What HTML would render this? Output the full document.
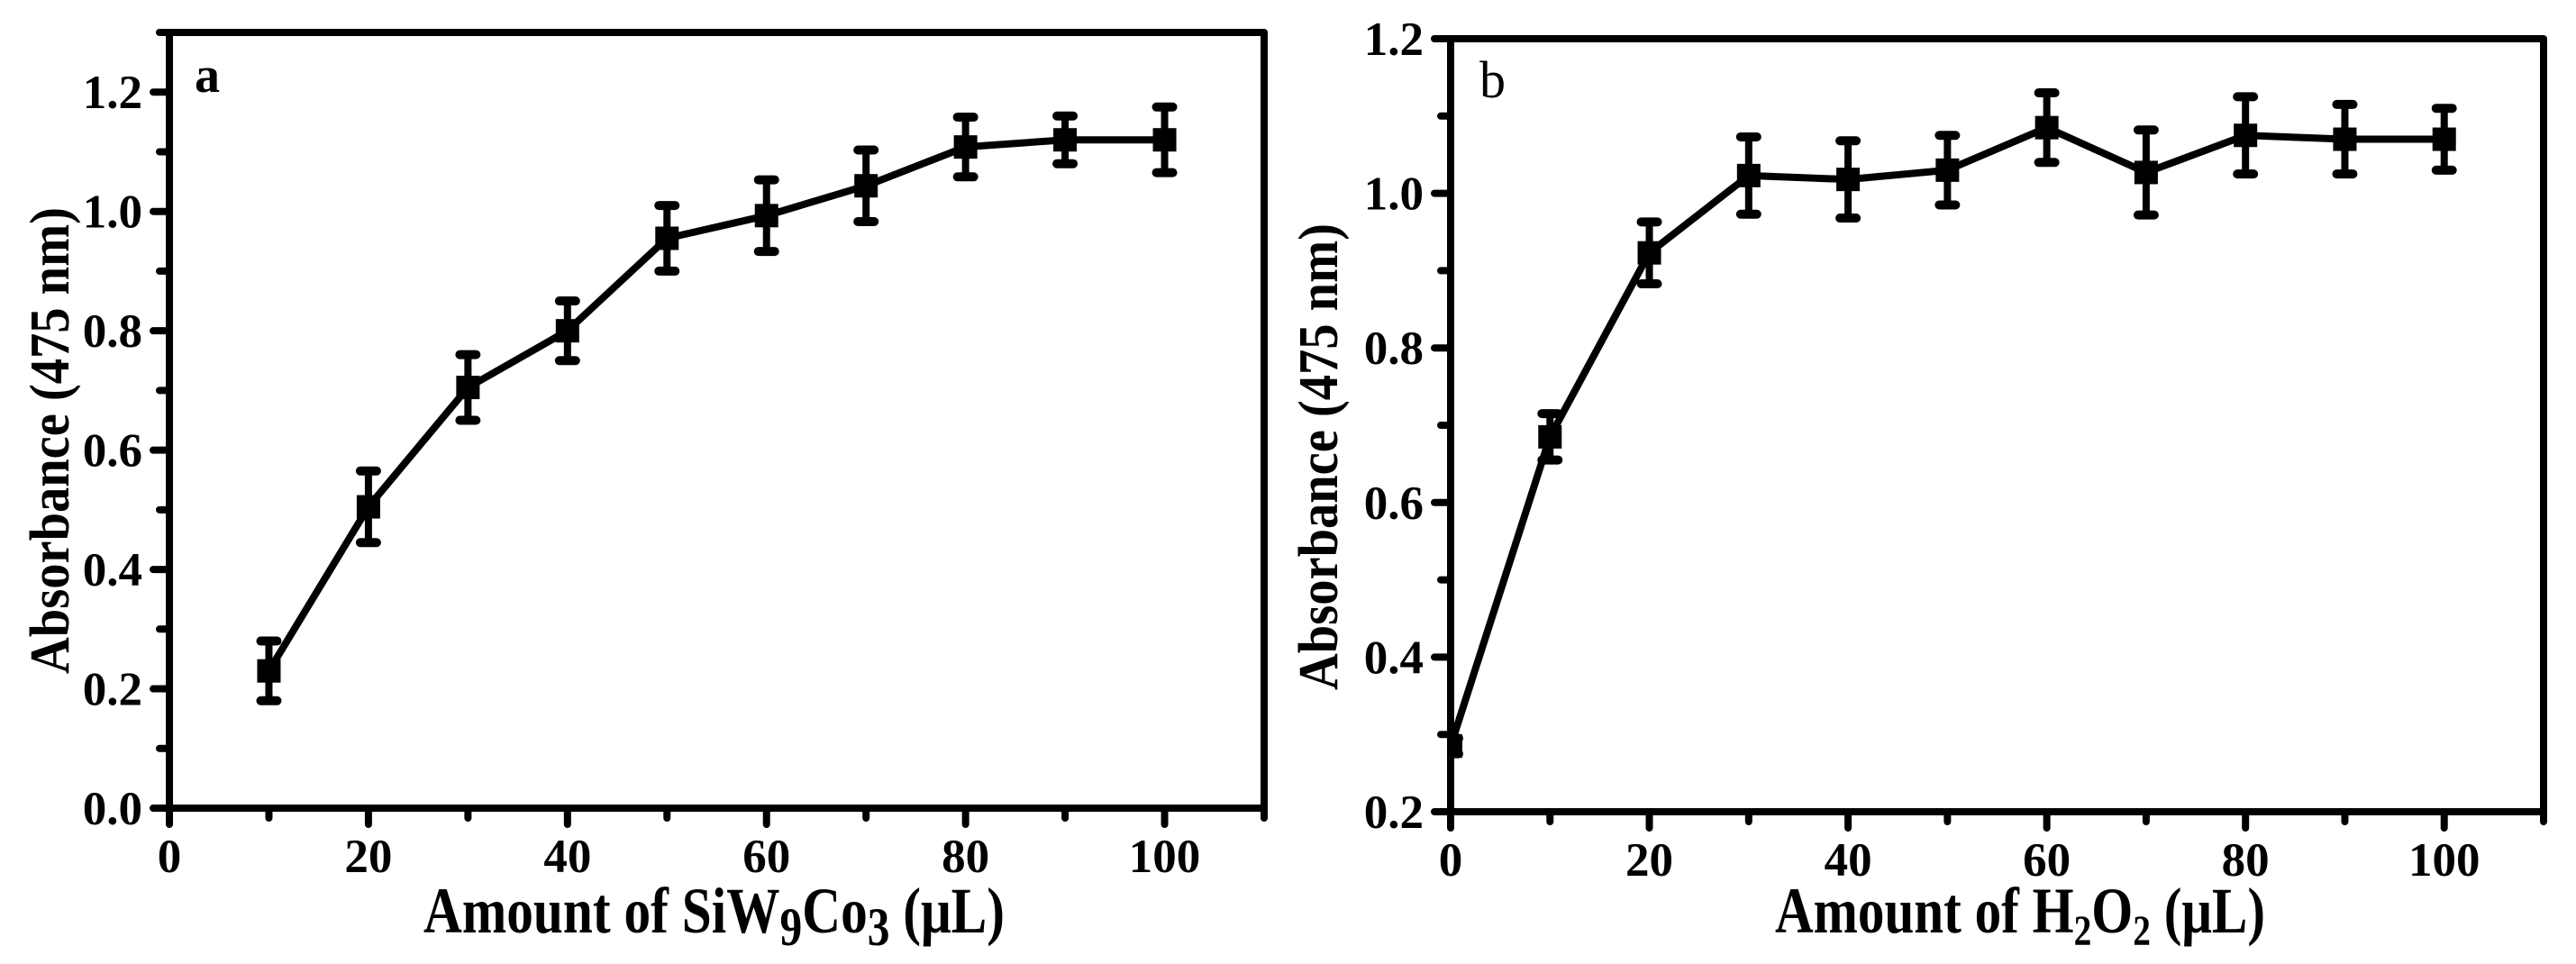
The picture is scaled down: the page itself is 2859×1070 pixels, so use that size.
<!DOCTYPE html>
<html><head><meta charset="utf-8">
<style>
html,body{margin:0;padding:0;background:#fff;}
svg{display:block;}
text{font-family:"Liberation Serif",serif;fill:#000;}
</style></head>
<body>
<svg id="chart" width="2859" height="1070" viewBox="0 0 2859 1070" xmlns="http://www.w3.org/2000/svg">
<defs>
<clipPath id="clipA"><rect x="188" y="36" width="1215" height="861"/></clipPath>
<clipPath id="clipB"><rect x="1610" y="43" width="1213" height="858"/></clipPath>
</defs>
</svg>
<script>
// Panel a data
const aX = [10,20,30,40,50,60,70,80,90,100];
const aY = [0.23,0.505,0.705,0.80,0.955,0.993,1.043,1.108,1.12,1.12];
const aErr = [0.05,0.06,0.055,0.05,0.055,0.06,0.06,0.05,0.04,0.055];
const aXTicks = [0,20,40,60,80,100];
const aYTicks = ["0.0","0.2","0.4","0.6","0.8","1.0","1.2"];
// Panel b data
const bX = [0,10,20,30,40,50,60,70,80,90,100];
const bY = [0.285,0.685,0.923,1.023,1.018,1.03,1.085,1.027,1.075,1.07,1.07];
const bErr = [0.01,0.03,0.04,0.05,0.05,0.045,0.045,0.055,0.05,0.045,0.04];
const bXTicks = [0,20,40,60,80,100];
const bYTicks = ["0.2","0.4","0.6","0.8","1.0","1.2"];

const NS = "http://www.w3.org/2000/svg";
const svg = document.getElementById('chart');
function mk(tag, attrs, parent){
  const e = document.createElementNS(NS, tag);
  for (const k in attrs) e.setAttribute(k, attrs[k]);
  (parent||svg).appendChild(e);
  return e;
}

function panel(cfg){
  const g = mk('g', {});
  
  
  const sx = v => cfg.L + (v - cfg.x0)/(cfg.x1 - cfg.x0)*(cfg.R - cfg.L);
  const sy = v => cfg.B - (v - cfg.y0)/(cfg.y1 - cfg.y0)*(cfg.B - cfg.T);
  // ticks x
  for (let v = cfg.x0; v <= cfg.x1 + 1e-9; v += 10){
    const major = (Math.round(v) % 20 === 0);
    const t = mk('line', {x1:sx(v), x2:sx(v), y1:cfg.B, y2:cfg.B + (major?18:11), stroke:'#000','stroke-width':8,'stroke-linecap':'round'}, g);
    
    
  }
  cfg.xTicks.forEach(v => {
    const t = mk('text', {x:sx(v), y:cfg.B+71, 'font-size':53, 'font-weight':'bold', 'text-anchor':'middle'}, g);
    t.textContent = String(v);
    
    
  });
  // ticks y
  const step = 0.1;
  for (let v = cfg.y0; v <= cfg.y1 + 1e-9; v += step){
    const idx = Math.round((v - cfg.y0)/step);
    const major = idx % 2 === 0;
    const t = mk('line', {x1:cfg.L, x2:cfg.L - (major?18:11), y1:sy(v), y2:sy(v), stroke:'#000','stroke-width':8,'stroke-linecap':'round'}, g);
    
    
  }
  cfg.yTicks.forEach(s => {
    const v = parseFloat(s);
    const t = mk('text', {x:cfg.L-30, y:sy(v)+18, 'font-size':53, 'font-weight':'bold', 'text-anchor':'end'}, g);
    t.textContent = s;
    
    
  });
  // frame
  const fr = mk('rect', {x:cfg.L, y:cfg.T, width:cfg.R-cfg.L, height:cfg.B-cfg.T, fill:'none', stroke:'#000', 'stroke-width':8, 'stroke-linejoin':'round'}, g);
  
  
  // series
  const sg = mk('g', {'clip-path':'url(#'+cfg.clip+')'}, g);
  
  
  const pts = cfg.xs.map((x,i) => sx(x)+','+sy(cfg.ys[i])).join(' ');
  const pl = mk('polyline', {points:pts, fill:'none', stroke:'#000', 'stroke-width':8, 'stroke-linejoin':'round'}, sg);
  
  
  cfg.xs.forEach((x,i) => {
    const cx = sx(x), cy = sy(cfg.ys[i]);
    const hi = sy(cfg.ys[i] + cfg.errs[i]), lo = sy(cfg.ys[i] - cfg.errs[i]);
    const eb = mk('g', {}, sg);
    
    
    mk('line', {x1:cx, x2:cx, y1:hi, y2:lo, stroke:'#000', 'stroke-width':8}, eb);
    mk('line', {x1:cx-9, x2:cx+9, y1:hi, y2:hi, stroke:'#000', 'stroke-width':10, 'stroke-linecap':'round'}, eb);
    mk('line', {x1:cx-9, x2:cx+9, y1:lo, y2:lo, stroke:'#000', 'stroke-width':10, 'stroke-linecap':'round'}, eb);
    const m = mk('rect', {x:cx-13, y:cy-13, width:26, height:26, fill:'#000'}, sg);
    
    
  });
  // panel letter
  const pl2 = mk('text', {x:cfg.letterX, y:cfg.letterY, 'font-size':cfg.letterSize, 'font-weight':cfg.letterWeight}, g);
  pl2.textContent = cfg.letter;
  
  
  // y title
  const yt = mk('text', {transform:'translate('+cfg.ytX+','+cfg.ytY+') rotate(-90)', 'font-size':62, 'font-weight':'bold', 'text-anchor':'middle', textLength:518, lengthAdjust:'spacingAndGlyphs'}, g);
  yt.textContent = 'Absorbance (475 nm)';
  
  
  return {g, sx, sy};
}

const A = panel({name:'panel-a', L:188, R:1403, T:36, B:897, x0:0, x1:110, y0:0, y1:1.3,
  xs:aX, ys:aY, errs:aErr, xTicks:aXTicks, yTicks:aYTicks, clip:'clipA',
  letter:'a', letterX:216, letterY:102, letterSize:56, letterWeight:'bold', ytX:76, ytY:489});
const B = panel({name:'panel-b', L:1610, R:2823, T:43, B:901, x0:0, x1:110, y0:0.2, y1:1.2,
  xs:bX, ys:bY, errs:bErr, xTicks:bXTicks, yTicks:bYTicks, clip:'clipB',
  letter:'b', letterX:1642, letterY:108, letterSize:58, letterWeight:'normal', ytX:1484, ytY:507});

// x-axis titles
const xa = mk('text', {x:470, y:1035, 'font-size':72, 'font-weight':'bold', textLength:645, lengthAdjust:'spacingAndGlyphs'});


xa.innerHTML = 'Amount of SiW<tspan dy="14" font-size="60">9</tspan><tspan dy="-14">Co</tspan><tspan dy="14" font-size="60">3</tspan><tspan dy="-14"> (μL)</tspan>';
const xb = mk('text', {x:1970, y:1035, 'font-size':72, 'font-weight':'bold', textLength:544, lengthAdjust:'spacingAndGlyphs'});


xb.innerHTML = 'Amount of H<tspan dy="14" font-size="48">2</tspan><tspan dy="-14">O</tspan><tspan dy="14" font-size="48">2</tspan><tspan dy="-14"> (μL)</tspan>';
</script>
</body></html>
